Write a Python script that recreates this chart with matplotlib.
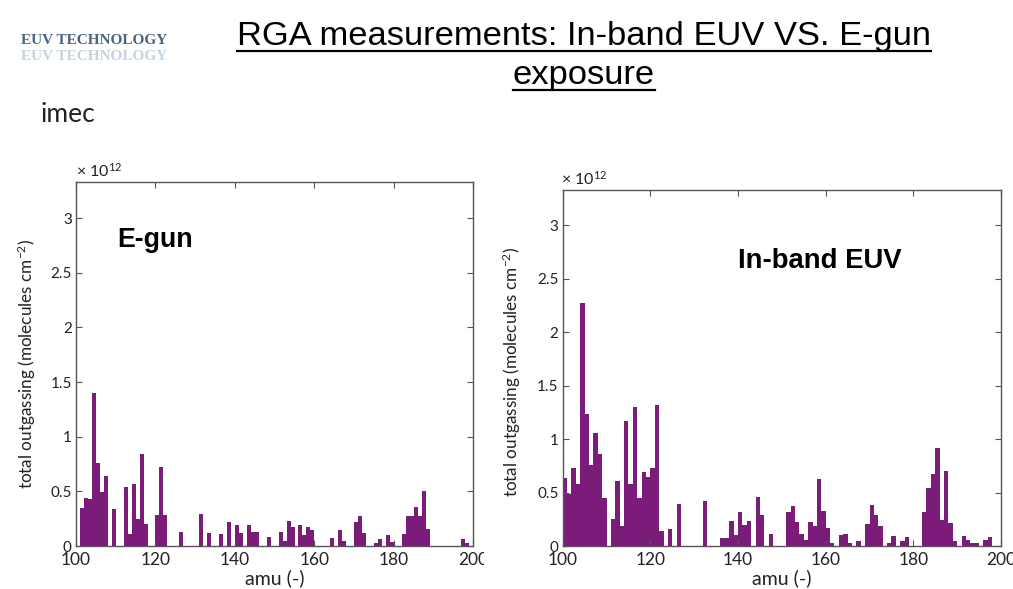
import matplotlib
matplotlib.use('Agg')
import matplotlib.pyplot as plt
from matplotlib.lines import Line2D
from matplotlib.transforms import Bbox, TransformedBbox

# ---------------- data (total outgassing, units of 1e12 molecules cm^-2) ----------------
egun_amu = [101, 102, 103, 104, 105, 106, 107, 109, 112, 113, 114, 115, 116, 117,
            120, 121, 122, 126, 131, 133, 136, 138, 140, 141, 143, 144, 145, 148,
            151, 152, 153, 154, 156, 157, 158, 159, 164, 166, 167, 170, 171, 172,
            175, 176, 178, 179, 182, 183, 184, 185, 186, 187, 188, 197, 198]
egun_val = [0.35, 0.44, 0.43, 1.40, 0.755, 0.495, 0.64, 0.34, 0.54, 0.11, 0.565, 0.25, 0.84, 0.205,
            0.285, 0.725, 0.28, 0.13, 0.29, 0.12, 0.11, 0.215, 0.19, 0.12, 0.19, 0.13, 0.13, 0.085,
            0.13, 0.05, 0.23, 0.17, 0.19, 0.10, 0.17, 0.145, 0.07, 0.145, 0.05, 0.22, 0.27, 0.12,
            0.025, 0.06, 0.10, 0.035, 0.11, 0.27, 0.27, 0.36, 0.27, 0.50, 0.16, 0.06, 0.025]

euv_amu = [100, 101, 102, 103, 104, 105, 106, 107, 108, 109, 111, 112, 113, 114, 115, 116,
           117, 118, 119, 120, 121, 122, 124, 126, 132, 136, 137, 138, 139, 140, 141, 142,
           144, 145, 147, 151, 152, 153, 154, 155, 156, 157, 158, 159, 160, 161, 163, 164,
           165, 167, 169, 170, 171, 172, 174, 175, 177, 178, 182, 183, 184, 185, 186, 187,
           188, 189, 191, 192, 193, 194, 196, 197]
euv_val = [0.633, 0.484, 0.733, 0.577, 2.27, 1.235, 0.758, 1.055, 0.858, 0.446, 0.253, 0.605,
           0.187, 1.167, 0.58, 1.30, 0.446, 0.693, 0.643, 0.733, 1.32, 0.144, 0.16, 0.396,
           0.425, 0.072, 0.078, 0.2375, 0.103, 0.32, 0.197, 0.2375, 0.456, 0.29, 0.109,
           0.319, 0.375, 0.222, 0.109, 0.056, 0.222, 0.1875, 0.628, 0.331, 0.166, 0.025,
           0.103, 0.1125, 0.025, 0.047, 0.206, 0.381, 0.294, 0.19, 0.025, 0.094, 0.05,
           0.081, 0.319, 0.547, 0.675, 0.916, 0.244, 0.706, 0.219, 0.047, 0.097, 0.056,
           0.031, 0.031, 0.056, 0.084]

xticks = [100, 120, 140, 160, 180, 200]
xtick_labels = ['100', '120', '140', '160', '180', '200']
yticks = [0, 0.5, 1, 1.5, 2, 2.5, 3]
ytick_labels = ['0', '0.5', '1', '1.5', '2', '2.5', '3']

title_line1 = 'RGA measurements: In-band EUV VS. E-gun'
title_line2 = 'exposure'
ylabel = 'total outgassing (molecules cm$^{-2}$)'
xlabel = 'amu (-)'

# ---------------- figure ----------------
W, H = 1013, 589
plt.rcParams['mathtext.fontset'] = 'custom'
plt.rcParams['mathtext.rm'] = 'Lato'
plt.rcParams['mathtext.it'] = 'Lato:italic'
plt.rcParams['mathtext.bf'] = 'Lato:bold'

fig = plt.figure(figsize=(W / 100, H / 100), dpi=100)
fig.patch.set_facecolor('white')

BAR = '#7b1c7b'
SPINE = '#555555'
TXT = '#222222'


def rect(l, t, r, b):
    return [l / W, 1 - b / H, (r - l) / W, (b - t) / H]


def style_axes(ax, amu, val):
    ax.bar(amu, val, width=1.0, align='edge', color=BAR, linewidth=0)
    ax.set_xlim(100, 200)
    ax.set_ylim(0, 3.33)
    ax.set_xticks(xticks)
    ax.set_xticklabels(xtick_labels, fontfamily='Lato', fontsize=12.5, color=TXT)
    ax.set_yticks(yticks)
    ax.set_yticklabels(ytick_labels, fontfamily='Lato', fontsize=11, color=TXT)
    ax.tick_params(axis='both', direction='in', top=True, right=True, length=4,
                   width=0.8, color=SPINE)
    ax.tick_params(axis='x', pad=4)
    ax.tick_params(axis='y', pad=3)
    for s in ax.spines.values():
        s.set_color(SPINE)
        s.set_linewidth(1.0)
    ax.set_xlabel(xlabel, fontfamily='Lato', fontsize=14, color=TXT, labelpad=1)


ax1 = fig.add_axes(rect(76, 182, 473.3, 546))
style_axes(ax1, egun_amu, egun_val)
ax2 = fig.add_axes(rect(562.7, 190, 1001, 546))
style_axes(ax2, euv_amu, euv_val)

# the left "200" tick label is cut by the slide in the reference
clip = TransformedBbox(Bbox([[0, 0], [484 / W, 1]]), fig.transFigure)
for lab in ax1.get_xticklabels():
    lab.set_clip_box(clip)
    lab.set_clip_on(True)

# y labels
fig.text(27 / W, 1 - 364 / H, ylabel, rotation=90, ha='center', va='center',
         fontfamily='Lato', fontsize=12.3, color=TXT)
fig.text(512 / W, 1 - 372 / H, ylabel, rotation=90, ha='center', va='center',
         fontfamily='Lato', fontsize=12.3, color=TXT)

# exponent labels
fig.text(76 / W, 1 - 177 / H, r'× 10$^{12}$', ha='left', va='baseline',
         fontfamily='Lato', fontsize=11.5, color=TXT)
fig.text(561 / W, 1 - 185 / H, r'× 10$^{12}$', ha='left', va='baseline',
         fontfamily='Lato', fontsize=11.5, color=TXT)

# in-plot annotations
fig.text(117 / W, 1 - 247 / H, 'E-gun', ha='left', va='baseline',
         fontfamily='Liberation Sans', fontweight='bold', fontsize=19.3, color='black')
fig.text(738 / W, 1 - 268 / H, 'In-band EUV', ha='left', va='baseline',
         fontfamily='Liberation Sans', fontweight='bold', fontsize=19.8, color='black')

# title with underline
t1 = fig.text(584 / W, 1 - 45 / H, title_line1, ha='center', va='baseline',
              fontfamily='Liberation Sans', fontsize=24.8, color='black')
t2 = fig.text(584 / W, 1 - 84 / H, title_line2, ha='center', va='baseline',
              fontfamily='Liberation Sans', fontsize=24.8, color='black')

# logo
fig.text(94 / W, 1 - 44 / H, 'EUV TECHNOLOGY', ha='center', va='baseline',
         fontfamily='Liberation Serif', fontweight='bold', fontsize=11, color='#4a6480')
fig.text(94 / W, 1 - 60 / H, 'EUV TECHNOLOGY', ha='center', va='baseline',
         fontfamily='Liberation Serif', fontweight='bold', fontsize=11, color='#c3d3e3')
fig.text(40 / W, 1 - 122 / H, 'imec', ha='left', va='baseline',
         fontfamily='Lato', fontsize=19, color=TXT)

fig.canvas.draw()
r = fig.canvas.get_renderer()
for t, y in ((t1, 51), (t2, 90)):
    bb = t.get_window_extent(renderer=r)
    x0, x1 = bb.x0 / W, bb.x1 / W
    fig.add_artist(Line2D([x0, x1], [1 - y / H, 1 - y / H], transform=fig.transFigure,
                          color='black', linewidth=1.6))

fig.savefig('out.png', dpi=100, facecolor='white')
